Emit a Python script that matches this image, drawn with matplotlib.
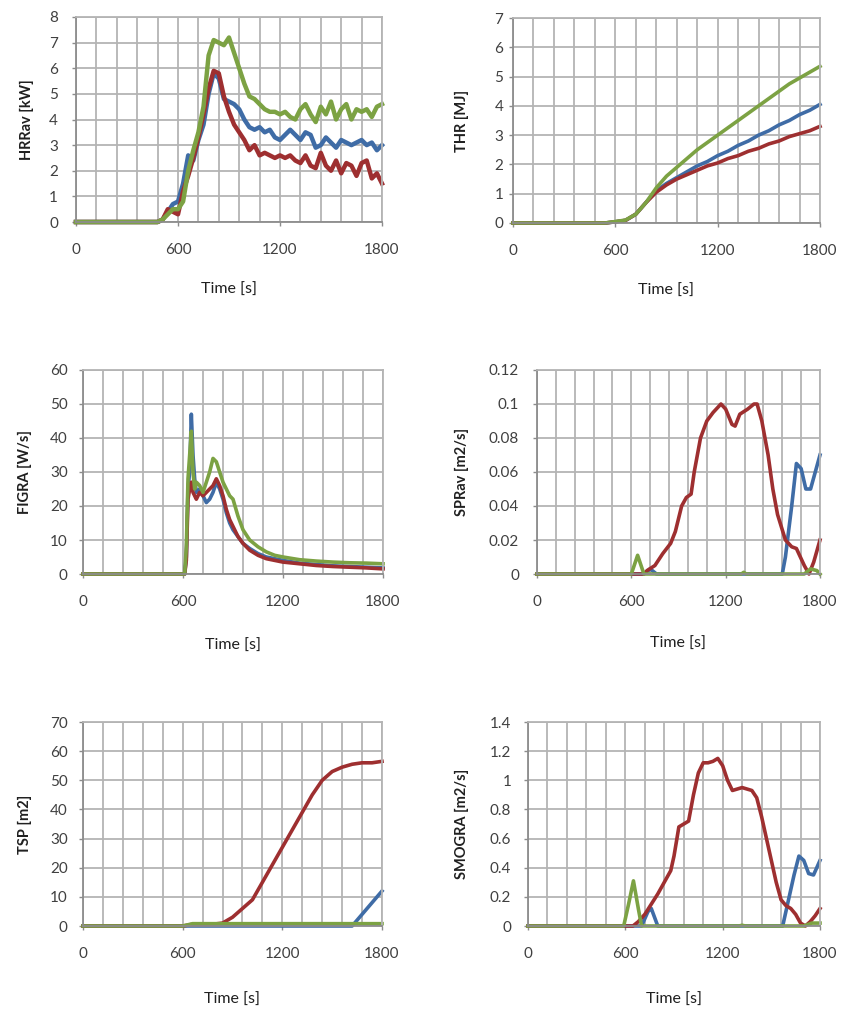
import numpy as np
import matplotlib
matplotlib.use("Agg")
import matplotlib.pyplot as plt
from matplotlib.ticker import FuncFormatter

plt.rcParams['font.family'] = ['Lato', 'DejaVu Sans']

# ---------------- data ----------------
# HRRav [kW]
t_hrr = [0, 480, 510, 540, 570, 600, 630, 660, 690, 720, 750, 780, 810, 840, 870, 900,
         930, 960, 990, 1020, 1050, 1080, 1110, 1140, 1170, 1200, 1230, 1260, 1290, 1320,
         1350, 1380, 1410, 1440, 1470, 1500, 1530, 1560, 1590, 1620, 1650, 1680, 1710,
         1740, 1770, 1800]
hrr_blue = [0, 0, 0.1, 0.4, 0.7, 0.8, 1.5, 2.6, 2.4, 3.2, 3.8, 5.0, 5.8, 5.6, 4.8, 4.7,
            4.6, 4.4, 4.0, 3.7, 3.6, 3.7, 3.5, 3.6, 3.3, 3.2, 3.4, 3.6, 3.4, 3.2,
            3.5, 3.4, 2.9, 3.0, 3.3, 3.1, 2.9, 3.2, 3.1, 3.0, 3.1, 3.2, 3.0,
            3.1, 2.8, 3.0]
hrr_red = [0, 0, 0.1, 0.5, 0.4, 0.3, 1.2, 1.8, 2.5, 3.3, 4.2, 5.2, 5.9, 5.8, 4.9, 4.3,
           3.8, 3.5, 3.2, 2.8, 3.0, 2.6, 2.7, 2.6, 2.5, 2.6, 2.5, 2.6, 2.4, 2.3,
           2.6, 2.2, 2.1, 2.7, 2.2, 2.0, 2.4, 1.9, 2.3, 2.2, 1.8, 2.3, 2.4,
           1.7, 1.9, 1.5]
hrr_green = [0, 0, 0.1, 0.3, 0.5, 0.5, 0.8, 2.0, 2.8, 3.5, 4.5, 6.5, 7.1, 7.0, 6.9, 7.2,
             6.6, 6.0, 5.4, 4.9, 4.8, 4.6, 4.4, 4.3, 4.3, 4.2, 4.3, 4.1, 4.0, 4.4,
             4.6, 4.2, 3.9, 4.5, 4.2, 4.7, 4.0, 4.4, 4.6, 4.0, 4.4, 4.3, 4.4,
             4.1, 4.5, 4.6]

# THR [MJ]
t_thr = [0, 540, 600, 660, 720, 780, 840, 900, 960, 1020, 1080, 1140, 1200, 1260, 1320,
         1380, 1440, 1500, 1560, 1620, 1680, 1740, 1800]
thr_blue = [0, 0, 0.04, 0.09, 0.3, 0.7, 1.1, 1.35, 1.55, 1.75, 1.95, 2.1, 2.3, 2.45, 2.65,
            2.8, 3.0, 3.15, 3.35, 3.5, 3.7, 3.85, 4.05]
thr_red = [0, 0, 0.04, 0.09, 0.3, 0.7, 1.05, 1.3, 1.5, 1.65, 1.8, 1.95, 2.05, 2.2, 2.3,
           2.45, 2.55, 2.7, 2.8, 2.95, 3.05, 3.15, 3.3]
thr_green = [0, 0, 0.05, 0.1, 0.3, 0.7, 1.2, 1.6, 1.9, 2.2, 2.5, 2.75, 3.0, 3.25, 3.5,
             3.75, 4.0, 4.25, 4.5, 4.75, 4.95, 5.15, 5.35]

# FIGRA [W/s]
t_figra = [0, 610, 620, 630, 640, 650, 660, 670, 680, 700, 720, 740, 760, 780, 800, 820,
           840, 860, 880, 900, 930, 960, 1000, 1050, 1100, 1150, 1200, 1300, 1400, 1500,
           1600, 1700, 1800]
figra_blue = [0, 0, 5, 25, 30, 47, 35, 28, 24, 25, 23, 21, 22, 24, 27, 25,
              22, 18, 15, 13, 11, 9, 7.5, 6, 5, 4.5, 4, 3.2, 2.8, 2.4, 2.2, 2.0, 1.8]
figra_red = [0, 0, 4, 22, 25, 27, 24, 23, 22, 24, 23, 24, 25, 26, 28, 26,
             23, 19, 16, 14, 11, 9, 7, 5.5, 4.5, 4, 3.5, 3, 2.5, 2.2, 2, 1.8, 1.5]
figra_green = [0, 0, 8, 28, 35, 42, 30, 25, 27, 26, 24, 27, 30, 34, 33, 30,
               27, 25, 23, 22, 17, 13, 10, 8, 6.5, 5.5, 5, 4.2, 3.8, 3.5, 3.3, 3.2, 3.0]

# SPRav [m2/s]
t_spr_red = [0, 680, 700, 750, 800, 850, 880, 920, 950, 980, 1000, 1040, 1080, 1120, 1170,
             1200, 1240, 1260, 1290, 1340, 1380, 1400, 1430, 1470, 1500, 1530, 1580, 1620,
             1650, 1700, 1730, 1760, 1800]
spr_red = [0, 0, 0.002, 0.005, 0.012, 0.018, 0.025, 0.04, 0.045, 0.047, 0.06, 0.08, 0.09,
           0.095, 0.1, 0.097, 0.088, 0.087, 0.094, 0.097, 0.1, 0.1, 0.09, 0.07, 0.05,
           0.035, 0.02, 0.016, 0.015, 0.005, 0.0, 0.007, 0.02]
t_spr_blue = [0, 680, 720, 760, 1560, 1580, 1620, 1650, 1680, 1710, 1740, 1770, 1800]
spr_blue = [0, 0, 0.003, 0, 0, 0.01, 0.04, 0.065, 0.062, 0.05, 0.05, 0.06, 0.07]
t_spr_green = [0, 600, 640, 680, 1300, 1315, 1330, 1700, 1740, 1780, 1800]
spr_green = [0, 0, 0.011, 0, 0, 0.001, 0, 0, 0.003, 0.002, 0.0]

# TSP [m2]
t_tsp_red = [0, 600, 650, 780, 840, 900, 960, 1020, 1080, 1140, 1200, 1260, 1320, 1380,
             1440, 1500, 1560, 1620, 1680, 1740, 1800]
tsp_red = [0, 0, 0.5, 0.6, 1, 3, 6, 9, 15, 21, 27, 33, 39, 45, 50, 53, 54.5, 55.5, 56,
           56, 56.5]
t_tsp_blue = [0, 1620, 1680, 1740, 1800]
tsp_blue = [0, 0, 4, 8, 12]
t_tsp_green = [0, 600, 660, 1800]
tsp_green = [0, 0, 0.8, 0.8]

# SMOGRA [m2/s]
t_smo_red = [0, 647, 680, 720, 760, 800, 840, 880, 900, 930, 960, 990, 1020, 1050, 1080,
             1110, 1140, 1170, 1200, 1230, 1260, 1290, 1320, 1350, 1380, 1410, 1440, 1470,
             1500, 1530, 1560, 1590, 1620, 1650, 1680, 1710, 1740, 1770, 1800]
smo_red = [0, 0, 0.03, 0.08, 0.15, 0.22, 0.3, 0.38, 0.48, 0.68, 0.7, 0.72, 0.9, 1.05,
           1.12, 1.12, 1.13, 1.15, 1.1, 1.0, 0.93, 0.94, 0.95, 0.94, 0.93, 0.88, 0.75,
           0.6, 0.45, 0.3, 0.18, 0.14, 0.12, 0.08, 0.02, 0.0, 0.03, 0.07, 0.12]
t_smo_blue = [0, 700, 740, 760, 800, 1570, 1600, 1640, 1670, 1700, 1730, 1760, 1800]
smo_blue = [0, 0, 0.1, 0.12, 0, 0, 0.15, 0.35, 0.48, 0.45, 0.36, 0.35, 0.45]
t_smo_green = [0, 590, 620, 650, 680, 700, 1300, 1320, 1340, 1700, 1750, 1800]
smo_green = [0, 0, 0.15, 0.31, 0.12, 0, 0, 0.005, 0, 0, 0.02, 0.02]

x_ticks = [0, 600, 1200, 1800]

# ---------------- styling ----------------
BLUE = "#3F6CA6"
RED = "#9E2F30"
GREEN = "#7CA243"
GRID = "#B4B4B4"

W, H = 841, 1010
fig = plt.figure(figsize=(W / 100, H / 100), dpi=100)

def make_ax(l, r, t, b):
    return fig.add_axes([l / W, 1 - b / H, (r - l) / W, (b - t) / H])

def fmt(v, pos):
    return "{:g}".format(round(v, 6))

def style(ax, ymax, ystep, ylabel, ylab_x, xlab_y, ypad):
    ax.set_xlim(0, 1800)
    ax.set_ylim(0, ymax)
    ax.set_xticks(x_ticks)
    ax.set_xticks(np.arange(0, 1801, 120), minor=True)
    ax.set_yticks(np.arange(0, ymax + ystep / 2, ystep))
    ax.yaxis.set_major_formatter(FuncFormatter(fmt))
    ax.grid(True, which='both', axis='x', color=GRID, lw=1.3)
    ax.grid(True, which='major', axis='y', color=GRID, lw=1.3)
    ax.set_axisbelow(True)
    for s in ax.spines.values():
        s.set_color(GRID)
        s.set_linewidth(1.3)
    ax.spines['bottom'].set_color("#8C8C8C")
    ax.spines['left'].set_color("#8C8C8C")
    ax.tick_params(axis='x', which='major', length=3, width=1, color="#8C8C8C",
                   pad=12, labelsize=11, labelcolor="#404040")
    ax.tick_params(axis='x', which='minor', length=0)
    ax.tick_params(axis='y', length=3, width=1, color="#8C8C8C",
                   pad=ypad, labelsize=11, labelcolor="#404040")
    ax.set_ylabel(ylabel, fontsize=10.5, fontweight='bold', color="#202020")
    ax.yaxis.set_label_coords(ylab_x, 0.5)
    ax.set_xlabel("Time [s]", fontsize=11.5, color="#202020")
    ax.xaxis.set_label_coords(0.5, xlab_y)
    ax.xaxis.label.set_va('center')

def lines(ax, series, lw=2.6):
    for t, y, c in series:
        ax.plot(t, y, color=c, lw=lw, clip_on=False, solid_joinstyle='round')

# Panel 1: HRRav
ax1 = make_ax(76, 382, 17, 222)
style(ax1, 8, 1, "HRRav [kW]", -0.137, -0.33, 10)
lines(ax1, [(t_hrr, hrr_blue, BLUE), (t_hrr, hrr_red, RED), (t_hrr, hrr_green, GREEN)], lw=3.2)

# Panel 2: THR
ax2 = make_ax(513, 820, 18, 223)
style(ax2, 7, 1, "THR [MJ]", -0.143, -0.33, 4)
lines(ax2, [(t_thr, thr_blue, BLUE), (t_thr, thr_red, RED), (t_thr, thr_green, GREEN)])

# Panel 3: FIGRA
ax3 = make_ax(83, 383, 370, 574)
style(ax3, 60, 10, "FIGRA [W/s]", -0.17, -0.35, 8)
lines(ax3, [(t_figra, figra_blue, BLUE), (t_figra, figra_red, RED),
            (t_figra, figra_green, GREEN)])

# Panel 4: SPRav
ax4 = make_ax(537, 820, 370, 574)
style(ax4, 0.12, 0.02, "SPRav [m2/s]", -0.24, -0.34, 10)
lines(ax4, [(t_spr_blue, spr_blue, BLUE), (t_spr_red, spr_red, RED),
            (t_spr_green, spr_green, GREEN)])

# Panel 5: TSP
ax5 = make_ax(83, 382, 722, 926)
style(ax5, 70, 10, "TSP [m2]", -0.17, -0.36, 8)
lines(ax5, [(t_tsp_blue, tsp_blue, BLUE), (t_tsp_red, tsp_red, RED),
            (t_tsp_green, tsp_green, GREEN)])

# Panel 6: SMOGRA
ax6 = make_ax(528, 820, 722, 926)
style(ax6, 1.4, 0.2, "SMOGRA [m2/s]", -0.202, -0.36, 9)
lines(ax6, [(t_smo_blue, smo_blue, BLUE), (t_smo_red, smo_red, RED),
            (t_smo_green, smo_green, GREEN)])

fig.savefig("out.png", dpi=100)
